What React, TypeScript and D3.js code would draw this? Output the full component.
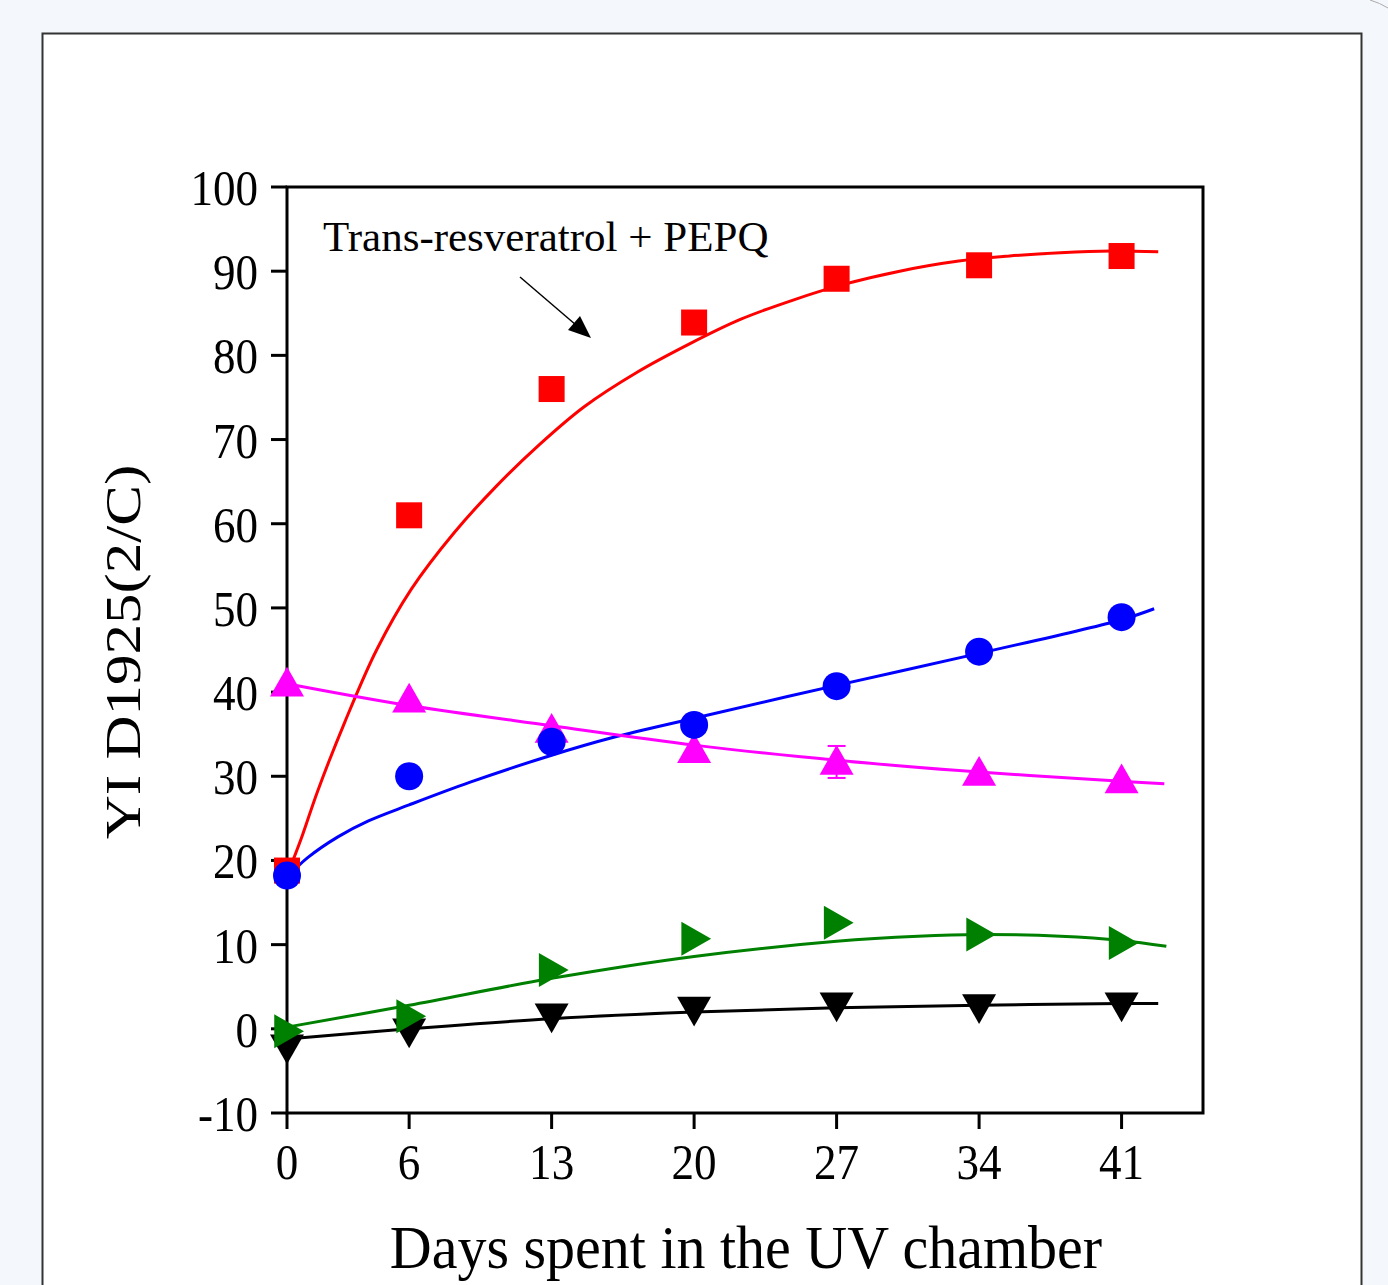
import React from "react";
import * as d3 from "d3";

const xTicks = [0, 6, 13, 20, 27, 34, 41];
const yTicks = [-10, 0, 10, 20, 30, 40, 50, 60, 70, 80, 90, 100];

const redPts = [18.8, 61, 76, 83.9, 89.1, 90.7, 91.8];
const bluePts = [18.2, 30, 34.1, 36.1, 40.7, 44.8, 48.9];
const magentaPts = [41, 39.1, 35.5, 33.1, 31.7, 30.4, 29.5];
const magentaErr = [0, 0, 0, 0, 1.9, 0, 0];
const greenPts = [-0.3, 1.5, 7.0, 10.7, 12.6, 11.2, 10.2];
const blackPts = [-2.2, -0.3, 1.5, 2.3, 2.8, 2.6, 2.8];

// fitted curves: [day, value]
const redCurve: [number, number][] = [
  [0, 18.2], [0.7, 22.6], [1.5, 28.2], [2.85, 36.5], [4.4, 45.0], [6.1, 52.2], [8.2, 58.9],
  [10.3, 64.5], [12.4, 69.4], [14.6, 73.9], [17.2, 78.0], [19.8, 81.4], [22.3, 84.3],
  [24.9, 86.6], [27.3, 88.4], [30.1, 90.0], [33, 91.2], [35.5, 91.8], [38, 92.2],
  [40.5, 92.4], [42.8, 92.3],
];
const blueCurve: [number, number][] = [
  [0, 18], [1, 20.3], [2.5, 22.8], [4, 24.7], [6, 26.6], [9, 29.3], [13, 32.5],
  [16, 34.6], [20, 36.9], [27, 40.8], [34, 44.6], [41, 48.6], [42.6, 49.9],
];
const magentaCurve: [number, number][] = [
  [0, 41], [6, 38.4], [13, 36], [20, 33.7], [27, 31.9], [34, 30.5], [41, 29.4], [43.1, 29.1],
];
const greenCurve: [number, number][] = [
  [0, 0.2], [6, 2.8], [13, 6.0], [20, 8.6], [27, 10.4], [31, 11.0], [34, 11.2], [38, 11.0],
  [41, 10.5], [43.2, 9.8],
];
const blackCurve: [number, number][] = [
  [0, -1.2], [6, 0], [13, 1.2], [20, 2.0], [27, 2.5], [34, 2.8], [41, 3.0], [42.8, 3.0],
];

const W = 1388;
const H = 1285;
const L = 287, R = 1203, T = 187, B = 1113;
const FONT = "'Liberation Serif', 'Times New Roman', serif";

export default function App() {
  const x = d3.scaleLinear().domain([0, 45]).range([L, R]);
  const y = d3.scaleLinear().domain([-10, 100]).range([B, T]);
  const line = d3
    .line<[number, number]>()
    .x((d) => x(d[0]))
    .y((d) => y(d[1]))
    .curve(d3.curveCatmullRom.alpha(0.5));

  const sq = 26;
  const tri = (cx: number, cy: number, dir: string, s = 17) => {
    let pts: [number, number][] = [];
    const h = s * 1.0;
    if (dir === "up") pts = [[cx, cy - h], [cx + s, cy + h * 0.75], [cx - s, cy + h * 0.75]];
    if (dir === "down") pts = [[cx, cy + h], [cx + s, cy - h * 0.75], [cx - s, cy - h * 0.75]];
    if (dir === "right") pts = [[cx + h, cy], [cx - h * 0.75, cy - s], [cx - h * 0.75, cy + s]];
    return pts.map((p) => p.join(",")).join(" ");
  };

  return (
    <svg
      width={W}
      height={H}
      style={{ position: "absolute", left: 0, top: 0, display: "block" }}
      fontFamily={FONT}
    >
      <rect x={0} y={0} width={W} height={H} fill="#f4f7fb" />
      <path d="M1370,0 Q1380,3 1388,8" fill="none" stroke="#aaa" strokeWidth={1} />
      <rect x={42.5} y={33.5} width={1319} height={1300} fill="#fff" stroke="#333" strokeWidth={2} />

      {/* frame */}
      <rect x={L} y={T} width={R - L} height={B - T} fill="none" stroke="#000" strokeWidth={3} />

      {/* y ticks */}
      {yTicks.map((t) => (
        <g key={"y" + t}>
          <line x1={L - 16} x2={L} y1={y(t)} y2={y(t)} stroke="#000" strokeWidth={3} />
          <text
            transform={`translate(${L - 29},${y(t)}) scale(0.98,1.12)`}
            dy="0.35em"
            textAnchor="end"
            fontSize={46}
          >
            {t}
          </text>
        </g>
      ))}
      {/* x ticks */}
      {xTicks.map((t) => (
        <g key={"x" + t}>
          <line x1={x(t)} x2={x(t)} y1={B} y2={B + 16} stroke="#000" strokeWidth={3} />
          <text
            transform={`translate(${x(t)},${B + 66}) scale(0.98,1.12)`}
            textAnchor="middle"
            fontSize={46}
          >
            {t}
          </text>
        </g>
      ))}

      <text
        transform={`translate(140,652) rotate(-90) scale(1.22,1)`}
        textAnchor="middle"
        fontSize={50}
      >
        YI D1925(2/C)
      </text>
      <text
        transform={`translate(746,1268) scale(1,1.05)`}
        textAnchor="middle"
        fontSize={58}
      >
        Days spent in the UV chamber
      </text>

      {/* annotation */}
      <text x={323} y={251} fontSize={43}>
        Trans-resveratrol + PEPQ
      </text>
      <line x1={520} y1={277} x2={576} y2={325} stroke="#000" strokeWidth={1.5} />
      <polygon points="591,338 568,330 580,316" fill="#000" />

      {/* curves */}
      <path d={line(redCurve) || ""} fill="none" stroke="#ff0000" strokeWidth={3} />
      <path d={line(blueCurve) || ""} fill="none" stroke="#0000ff" strokeWidth={3} />
      <path d={line(magentaCurve) || ""} fill="none" stroke="#ff00ff" strokeWidth={3} />
      <path d={line(greenCurve) || ""} fill="none" stroke="#008000" strokeWidth={3} />
      <path d={line(blackCurve) || ""} fill="none" stroke="#000" strokeWidth={3} />

      {/* black down triangles */}
      {blackPts.map((v, i) => (
        <polygon key={"k" + i} points={tri(x(xTicks[i]), y(v), "down")} fill="#000" />
      ))}
      {/* green right triangles */}
      {greenPts.map((v, i) => (
        <polygon key={"g" + i} points={tri(x(xTicks[i]), y(v), "right")} fill="#008000" />
      ))}
      {/* magenta up triangles w/ error */}
      {magentaPts.map((v, i) => (
        <g key={"m" + i}>
          {magentaErr[i] > 0 && (
            <g stroke="#ff00ff" strokeWidth={2}>
              <line x1={x(xTicks[i])} x2={x(xTicks[i])} y1={y(v + magentaErr[i])} y2={y(v - magentaErr[i])} />
              <line x1={x(xTicks[i]) - 9} x2={x(xTicks[i]) + 9} y1={y(v + magentaErr[i])} y2={y(v + magentaErr[i])} />
              <line x1={x(xTicks[i]) - 9} x2={x(xTicks[i]) + 9} y1={y(v - magentaErr[i])} y2={y(v - magentaErr[i])} />
            </g>
          )}
          <polygon points={tri(x(xTicks[i]), y(v), "up")} fill="#ff00ff" />
        </g>
      ))}
      {/* red squares */}
      {redPts.map((v, i) => (
        <rect
          key={"r" + i}
          x={x(xTicks[i]) - sq / 2}
          y={y(v) - sq / 2}
          width={sq}
          height={sq}
          fill="#ff0000"
        />
      ))}
      {/* blue circles */}
      {bluePts.map((v, i) => (
        <circle key={"b" + i} cx={x(xTicks[i])} cy={y(v)} r={14} fill="#0000ff" />
      ))}
    </svg>
  );
}
